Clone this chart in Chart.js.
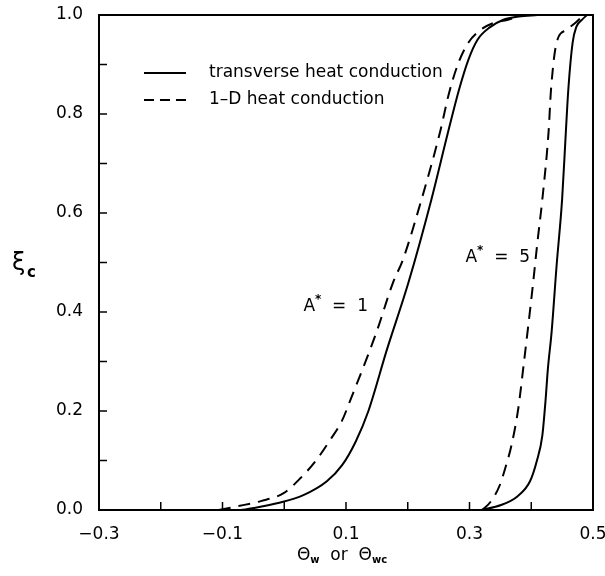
<!DOCTYPE html>
<html>
<head>
<meta charset="utf-8">
<script src="https://cdn.jsdelivr.net/npm/chart.js@4.4.1/dist/chart.umd.min.js"></script>
<style>
  html, body { margin: 0; padding: 0; background: #fff; }
  #wrap { width: 605px; height: 576px; }
</style>
</head>
<body>
<div id="wrap"><canvas id="xiChart"></canvas></div>
<script>
// A* = 1, transverse heat conduction (solid)
const solid1X = [-0.07, -0.049, -0.010, 0.031, 0.069, 0.094, 0.116, 0.136, 0.166, 0.201, 0.238, 0.265, 0.283, 0.298, 0.313, 0.334, 0.354, 0.380, 0.410];
const solid1Y = [0, 0.004, 0.014, 0.030, 0.058, 0.091, 0.139, 0.199, 0.323, 0.459, 0.626, 0.762, 0.849, 0.909, 0.950, 0.976, 0.990, 0.997, 1.0];

// A* = 1, 1-D heat conduction (dashed)
const dash1X = [-0.106, -0.074, -0.038, -0.001, 0.026, 0.052, 0.073, 0.093, 0.108, 0.149, 0.176, 0.192, 0.222, 0.252, 0.267, 0.282, 0.298, 0.318, 0.339, 0.361, 0.385];
const dash1Y = [0, 0.008, 0.018, 0.034, 0.064, 0.101, 0.139, 0.179, 0.225, 0.358, 0.459, 0.505, 0.626, 0.762, 0.843, 0.903, 0.944, 0.970, 0.984, 0.990, 1.0];

// A* = 5, transverse heat conduction (solid)
const solid5X = [0.319, 0.351, 0.378, 0.398, 0.409, 0.418, 0.423, 0.427, 0.433, 0.441, 0.450, 0.456, 0.460, 0.467, 0.473, 0.482, 0.490];
const solid5Y = [0, 0.010, 0.028, 0.058, 0.099, 0.151, 0.219, 0.286, 0.360, 0.493, 0.628, 0.763, 0.849, 0.944, 0.976, 0.990, 1.0];

// A* = 5, 1-D heat conduction (dashed)
const dash5X = [0.321, 0.335, 0.349, 0.358, 0.368, 0.379, 0.387, 0.394, 0.402, 0.410, 0.418, 0.428, 0.432, 0.441, 0.457, 0.473, 0.485];
const dash5Y = [0, 0.018, 0.050, 0.085, 0.131, 0.205, 0.286, 0.360, 0.447, 0.541, 0.628, 0.763, 0.849, 0.944, 0.970, 0.986, 1.0];

const legendLabels = ["transverse heat conduction", "1\u2013D heat conduction"];
const curveLabels = [
  { text: "1", x: 0.031, y: 0.41 },
  { text: "5", x: 0.2935, y: 0.509 },
];

const FONT = "'DejaVu Sans', sans-serif";
const DASH = [12, 8];

function pts(xs, ys) {
  return xs.map((x, i) => ({ x: x, y: ys[i] }));
}

function series(xs, ys, dashed) {
  return {
    data: pts(xs, ys),
    borderColor: "#000",
    borderWidth: 2,
    borderDash: dashed ? DASH : [],
    pointRadius: 0,
    fill: false,
    cubicInterpolationMode: "monotone",
  };
}

// frame, inward ticks, legend and labels
const decor = {
  id: "decor",
  afterDraw(chart) {
    const { ctx, chartArea: a, scales } = chart;
    ctx.save();
    ctx.strokeStyle = "#000";
    ctx.fillStyle = "#000";
    ctx.lineWidth = 2;
    ctx.strokeRect(a.left, a.top, a.right - a.left, a.bottom - a.top);

    ctx.lineWidth = 1.5;
    ctx.beginPath();
    scales.x.ticks.forEach((t) => {
      const px = scales.x.getPixelForValue(t.value);
      ctx.moveTo(px, a.bottom);
      ctx.lineTo(px, a.bottom - 8);
    });
    scales.y.ticks.forEach((t) => {
      const py = scales.y.getPixelForValue(t.value);
      ctx.moveTo(a.left, py);
      ctx.lineTo(a.left + 8, py);
    });
    ctx.stroke();

    // legend
    ctx.lineWidth = 2;
    ctx.textBaseline = "middle";
    ctx.font = "17px " + FONT;
    const lx = a.left + 45;
    const rows = [a.top + 58, a.top + 85];
    rows.forEach((ry, i) => {
      ctx.setLineDash(i === 1 ? [10, 6] : []);
      ctx.beginPath();
      ctx.moveTo(lx, ry);
      ctx.lineTo(lx + 42, ry);
      ctx.stroke();
      ctx.setLineDash([]);
      ctx.fillText(legendLabels[i], lx + 65, ry);
    });

    // A* labels
    curveLabels.forEach((c) => {
      let px = scales.x.getPixelForValue(c.x);
      const py = scales.y.getPixelForValue(c.y);
      ctx.font = "17px " + FONT;
      ctx.fillText("A", px, py);
      px += ctx.measureText("A").width;
      ctx.font = "bold 12px " + FONT;
      ctx.fillText("*", px, py - 7);
      px += ctx.measureText("*").width;
      ctx.font = "17px " + FONT;
      ctx.fillText("  =  " + c.text, px, py);
    });

    // y axis title
    ctx.font = "24px " + FONT;
    ctx.fillText("\u03BE", 12, 264);
    ctx.font = "bold 15px " + FONT;
    ctx.fillText("c", 27, 273);

    // x axis title
    const parts = [
      ["\u0398", "17px", 0],
      ["w", "bold 10px", 4],
      ["  or  ", "17px", 0],
      ["\u0398", "17px", 0],
      ["wc", "bold 10px", 4],
    ];
    let total = 0;
    parts.forEach((p) => {
      ctx.font = p[1] + " " + FONT;
      total += ctx.measureText(p[0]).width;
    });
    let x0 = 342 - total / 2;
    parts.forEach((p) => {
      ctx.font = p[1] + " " + FONT;
      ctx.fillText(p[0], x0, 556 + p[2]);
      x0 += ctx.measureText(p[0]).width;
    });
    ctx.restore();
  },
};

const ctx = document.getElementById("xiChart").getContext("2d");

new Chart(ctx, {
  type: "line",
  data: {
    datasets: [
      series(solid1X, solid1Y, false),
      series(dash1X, dash1Y, true),
      series(solid5X, solid5Y, false),
      series(dash5X, dash5Y, true),
    ],
  },
  options: {
    responsive: true,
    maintainAspectRatio: false,
    animation: false,
    layout: { padding: { left: 0, right: 12, top: 15, bottom: 0 } },
    plugins: { legend: { display: false }, tooltip: { enabled: false } },
    scales: {
      x: {
        type: "linear",
        min: -0.3,
        max: 0.5,
        grid: { display: false, drawTicks: false },
        border: { display: false },
        afterFit: (s) => {
          s.height = 66;
          s.paddingLeft = 0;
          s.paddingRight = 0;
        },
        ticks: {
          stepSize: 0.1,
          padding: 14,
          color: "#000",
          font: { family: FONT, size: 17 },
          maxRotation: 0,
          autoSkip: false,
          callback: (v) => {
            const k = Math.round(v * 10);
            if (Math.abs(k) % 2 !== 1) return "";
            return (k < 0 ? "\u2212" : "") + Math.abs(v).toFixed(1);
          },
        },
      },
      y: {
        min: 0,
        max: 1,
        grid: { display: false, drawTicks: false },
        border: { display: false },
        afterFit: (s) => {
          s.width = 99;
          s.paddingTop = 0;
          s.paddingBottom = 0;
        },
        ticks: {
          stepSize: 0.1,
          padding: 16,
          color: "#000",
          font: { family: FONT, size: 17 },
          autoSkip: false,
          callback: (v) => {
            const k = Math.round(v * 10);
            return k % 2 === 0 ? v.toFixed(1) : "";
          },
        },
      },
    },
  },
  plugins: [decor],
});
</script>
</body>
</html>
